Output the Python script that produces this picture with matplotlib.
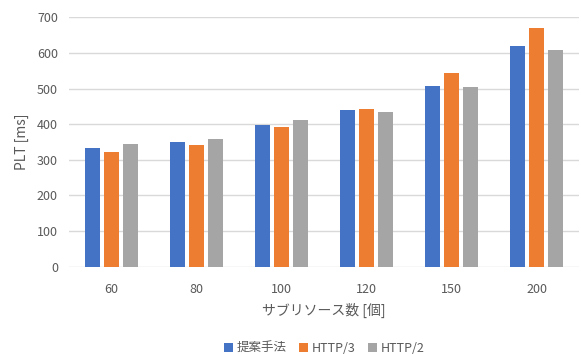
import numpy as np
import matplotlib
matplotlib.use("Agg")
import matplotlib.pyplot as plt

plt.rcParams['font.family'] = ['Noto Sans CJK JP', 'DejaVu Sans']

# data
categories = ["60", "80", "100", "120", "150", "200"]
proposed = [334, 351, 399, 440, 507, 619]
http3 = [323, 342, 392, 444, 544, 671]
http2 = [345, 359, 412, 433, 504, 609]
series_names = ["提案手法", "HTTP/3", "HTTP/2"]
colors = ["#4472C4", "#ED7D31", "#A5A5A5"]

fig = plt.figure(figsize=(5.81, 3.54), dpi=100)
ax = fig.add_axes([69/581, 87.3/354, 510/581, 249.4/354])

x = np.arange(len(categories))
pitch = 0.226
width = 0.173
for i, (vals, name, c) in enumerate(zip([proposed, http3, http2], series_names, colors)):
    ax.bar(x + (i - 1) * pitch, vals, width, color=c, label=name, zorder=3)

ax.set_xlim(-0.5, len(categories) - 0.5)
ax.set_ylim(0, 700)
ax.set_yticks(range(0, 701, 100))
ax.set_xticks(x)
ax.set_xticklabels(categories)
ax.grid(axis='y', color='#D9D9D9', linewidth=1, zorder=0)
for s in ax.spines.values():
    s.set_visible(False)
ax.tick_params(length=0, labelsize=9, colors='#595959')
ax.tick_params(axis='x', pad=12)
ax.tick_params(axis='y', pad=8)

ax.set_xlabel("サブリソース数 [個]", fontsize=10, color='#595959', labelpad=5)
ax.set_ylabel("PLT [ms]", fontsize=10, color='#595959', labelpad=6)

fig.legend(loc='center', bbox_to_anchor=(324/581, 6/354), ncol=3, frameon=False,
           fontsize=9, handlelength=0.7, handleheight=0.7, handletextpad=0.3,
           columnspacing=1.0, labelcolor='#595959')

fig.savefig("out.png", dpi=100)
